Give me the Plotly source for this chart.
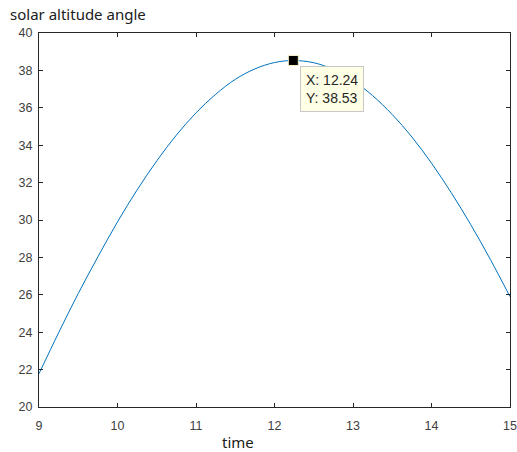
import plotly.graph_objects as go

time = [9.0, 9.25, 9.5, 9.75, 10.0, 10.25, 10.5, 10.75, 11.0, 11.25, 11.5, 11.75, 12.0, 12.24,
        12.5, 12.75, 13.0, 13.25, 13.5, 13.75, 14.0, 14.25, 14.5, 14.75, 15.0]
altitude = [21.78, 23.97, 26.07, 28.03, 29.9, 31.61, 33.16, 34.54, 35.73, 36.72, 37.52, 38.08, 38.42, 38.53,
            38.41, 38.05, 37.46, 36.65, 35.64, 34.44, 33.04, 31.47, 29.75, 27.89, 25.9]
peak_x = [12.24]
peak_y = [38.53]
x_ticks = [9, 10, 11, 12, 13, 14, 15]
y_ticks = [20, 22, 24, 26, 28, 30, 32, 34, 36, 38, 40]

fig = go.Figure()
fig.add_trace(go.Scatter(x=time, y=altitude, mode="lines", line=dict(color="#0072BD", width=1, shape="spline"),
                         hoverinfo="skip", showlegend=False))
fig.add_trace(go.Scatter(x=peak_x, y=peak_y, mode="markers",
                         marker=dict(symbol="square", size=10, color="black", line=dict(color="#F5F0C8", width=1)),
                         showlegend=False))

tick_font = dict(family="Liberation Sans, Arial", size=12.5, color="#404040")
axis_common = dict(showline=True, linecolor="#262626", linewidth=1, mirror="ticks", ticks="inside",
                   ticklen=4, tickcolor="#262626", showgrid=False, zeroline=False, tickfont=tick_font,
                   automargin=False)

fig.update_xaxes(range=[9, 15], tickvals=x_ticks, ticktext=[str(v) for v in x_ticks],
                 ticklabelstandoff=7, **axis_common)
fig.update_yaxes(range=[20, 40], tickvals=y_ticks, ticktext=[str(v) for v in y_ticks],
                 ticklabelstandoff=3, **axis_common)

fig.add_annotation(x=peak_x[0], y=peak_y[0], xref="x", yref="y",
                   text="X: %.2f<br>Y: %.2f" % (peak_x[0], peak_y[0]),
                   showarrow=False, xanchor="left", yanchor="top", xshift=7, yshift=-6, align="left",
                   bgcolor="#FFFFE6", bordercolor="#C8C8C8", borderwidth=1, borderpad=5,
                   font=dict(family="Liberation Sans, Arial", size=14, color="#262626"))

fig.add_annotation(xref="x domain", yref="y domain", x=-0.066, y=1.0, xanchor="left", yanchor="bottom",
                   yshift=7, text="solar altitude angle", showarrow=False,
                   font=dict(family="Noto Sans, Open Sans", size=15, color="#202020"))
fig.add_annotation(xref="x domain", yref="y domain", x=(238 - 39) / 471, y=0, xanchor="center", yanchor="top",
                   yshift=-23, text="time", showarrow=False,
                   font=dict(family="Noto Sans, Open Sans", size=15, color="#202020"))

fig.update_layout(width=517, height=452, margin=dict(l=39, r=7, t=33, b=45),
                  paper_bgcolor="white", plot_bgcolor="white")

fig.write_html("out.html")
